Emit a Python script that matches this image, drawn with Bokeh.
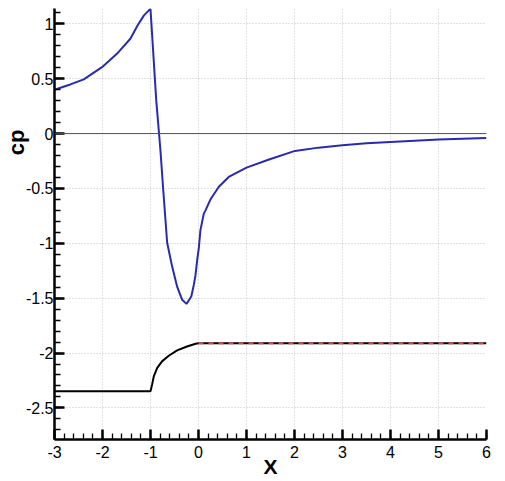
from bokeh.plotting import figure
from bokeh.models import SingleIntervalTicker, Span, Range1d, Title
from bokeh.embed import file_html
from bokeh.resources import INLINE

# ---- data ----
cp_x = [-3.0, -2.67, -2.39, -2.01, -1.70, -1.42, -1.27, -1.14, -1.02, -1.0, -0.88, -0.793,
        -0.737, -0.653, -0.55, -0.445, -0.34, -0.25, -0.15, -0.098, -0.063, -0.027, 0.006,
        0.04, 0.11, 0.146, 0.25, 0.286, 0.424, 0.63, 1.0, 1.47, 2.01, 2.5, 3.0, 3.5, 4.0,
        4.5, 5.0, 5.5, 6.0]
cp_y = [0.40, 0.448, 0.494, 0.605, 0.727, 0.864, 0.985, 1.075, 1.13, 1.136, 0.30, -0.152,
        -0.5, -0.995, -1.21, -1.395, -1.515, -1.552, -1.485, -1.38, -1.29, -1.15, -1.045,
        -0.88, -0.73, -0.70, -0.60, -0.576, -0.485, -0.395, -0.31, -0.236, -0.158, -0.128,
        -0.106, -0.089, -0.076, -0.065, -0.055, -0.047, -0.04]

geo_x = [-3.0, -1.0, -0.967, -0.93, -0.86, -0.76, -0.62, -0.445, -0.24, -0.06, 0.0, 6.0]
geo_y = [-2.349, -2.349, -2.288, -2.21, -2.136, -2.076, -2.025, -1.976, -1.94, -1.915, -1.91, -1.91]

wall_x = [0.0, 6.0]
wall_y = [-1.91, -1.91]

x_tick_values = [-3, -2, -1, 0, 1, 2, 3, 4, 5, 6]
x_tick_labels = ["-3", "-2", "-1", "0", "1", "2", "3", "4", "5", "6"]
y_tick_values = [1, 0.5, 0, -0.5, -1, -1.5, -2, -2.5]
y_tick_labels = ["1", "0.5", "0", "-0.5", "-1", "-1.5", "-2", "-2.5"]

FONT = "Liberation Sans"

p = figure(width=505, height=481, output_backend="svg", toolbar_location=None,
           x_range=Range1d(-3, 6), y_range=Range1d(-2.788, 1.14),
           min_border_left=54, min_border_right=19, min_border_top=8, min_border_bottom=42)
p.outline_line_color = None
p.background_fill_color = "white"

# zero line
p.add_layout(Span(location=0, dimension="width", line_color="#505050", line_width=1))

p.line(cp_x, cp_y, line_color="#2a2ab0", line_width=2)
p.line(geo_x, geo_y, line_color="black", line_width=2)
p.line(wall_x, wall_y, line_color="#e04848", line_width=2, line_dash="5 5")

p.xaxis.ticker = SingleIntervalTicker(interval=1, num_minor_ticks=5)
p.yaxis.ticker = SingleIntervalTicker(interval=0.5, num_minor_ticks=5)
p.xaxis.major_label_overrides = {float(v): s for v, s in zip(x_tick_values, x_tick_labels)}
p.yaxis.major_label_overrides = {float(v): s for v, s in zip(y_tick_values, y_tick_labels)}

for ax in (p.xaxis, p.yaxis):
    ax.axis_line_width = 2.5
    ax.axis_line_color = "black"
    ax.major_tick_in = 10
    ax.major_tick_out = 0
    ax.minor_tick_in = 6
    ax.minor_tick_out = 0
    ax.major_tick_line_width = 2.5
    ax.minor_tick_line_width = 1.3
    ax.major_label_text_font = FONT
    ax.major_label_text_font_size = "16px"
    ax.major_label_text_color = "black"

p.yaxis.major_label_standoff = 1
p.xaxis.major_label_standoff = 6
p.xaxis.axis_label = "X"
p.xaxis.axis_label_text_font = FONT
p.xaxis.axis_label_text_font_style = "bold"
p.xaxis.axis_label_text_font_size = "21px"
p.xaxis.axis_label_standoff = -6
p.xaxis.axis_label_text_color = "black"

for g in (p.xgrid, p.ygrid):
    g.grid_line_color = "#c4c4c4"
    g.grid_line_dash = "1 2"
    g.grid_line_width = 1
p.xgrid.ticker = SingleIntervalTicker(interval=1)
p.ygrid.ticker = SingleIntervalTicker(interval=0.5)

p.add_layout(Title(text="cp", align="right", offset=121, standoff=-12,
                   vertical_align="bottom",
                   text_font=FONT, text_font_style="bold", text_font_size="22px",
                   text_color="black"), "left")

open("out.html", "w").write(file_html(p, INLINE))
